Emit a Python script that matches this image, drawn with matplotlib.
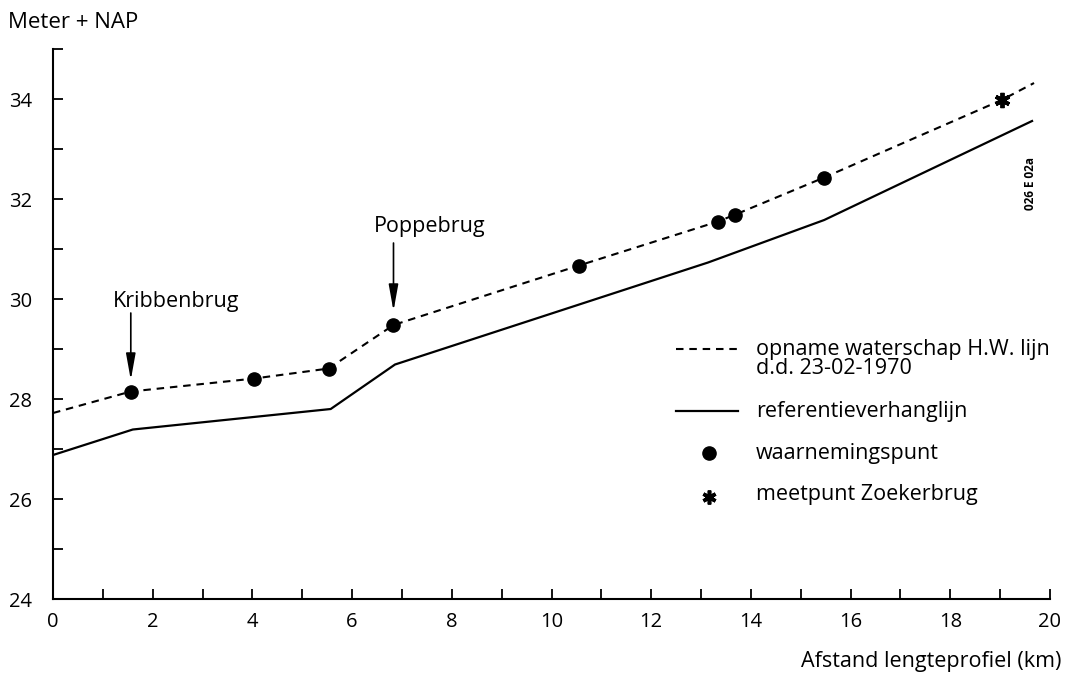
import matplotlib
matplotlib.use("Agg")
import matplotlib.pyplot as plt
from matplotlib.lines import Line2D
import numpy as np

plt.rcParams['font.family'] = ['Open Sans', 'DejaVu Sans']

# opname waterschap H.W. lijn (dashed)
hw_x = [0.0, 1.56, 4.04, 5.53, 6.83, 10.55, 13.34, 13.69, 15.47, 19.03, 19.68]
hw_y = [27.72, 28.15, 28.41, 28.61, 29.48, 30.67, 31.55, 31.69, 32.43, 33.98, 34.32]

# referentieverhanglijn (solid)
ref_x = [0.0, 1.6, 5.57, 6.86, 10.0, 13.14, 15.47, 19.64]
ref_y = [26.88, 27.39, 27.80, 28.69, 29.71, 30.73, 31.58, 33.56]

# waarnemingspunten
obs_x = [1.56, 4.04, 5.53, 6.83, 10.55, 13.34, 13.69, 15.47]
obs_y = [28.15, 28.41, 28.61, 29.48, 30.67, 31.55, 31.69, 32.43]

# meetpunt Zoekerbrug
zb_x = [19.03]
zb_y = [33.98]

fig = plt.figure(figsize=(10.65, 6.77), dpi=100)
ax = fig.add_axes([0.0498, 0.1152, 0.9361, 0.8124])

ax.plot(ref_x, ref_y, color='black', lw=1.6, solid_joinstyle='miter')
ax.plot(hw_x, hw_y, color='black', lw=1.5, dashes=(3.6, 2.8))
ax.plot(obs_x, obs_y, 'o', color='black', ms=9.5)
ax.plot(zb_x, zb_y, marker=(6, 2, 0), color='black', ms=11, mew=2.8, ls='none')

ax.set_xlim(0, 20)
ax.set_ylim(24, 35)
for s in ['top', 'right']:
    ax.spines[s].set_visible(False)
for s in ['left', 'bottom']:
    ax.spines[s].set_linewidth(1.5)

ax.set_xticks(np.arange(0, 21, 2))
ax.set_xticks(np.arange(0, 21, 1), minor=True)
ax.set_yticks(np.arange(24, 35, 2))
ax.set_yticks(np.arange(24, 36, 1), minor=True)
ax.tick_params(which='both', direction='in', length=7, width=1.3, labelsize=14.5)
ax.tick_params(axis='x', pad=9)
ax.tick_params(axis='y', pad=15)

arrow = dict(arrowstyle='-|>,head_width=0.18,head_length=1.0', color='black', lw=1.2,
             mutation_scale=16, shrinkA=0, shrinkB=0)

# annotations
ax.text(1.2, 29.95, 'Kribbenbrug', fontsize=15.5, ha='left', va='center')
ax.annotate('', xy=(1.56, 28.38), xytext=(1.56, 29.72), arrowprops=arrow)
ax.text(6.44, 31.45, 'Poppebrug', fontsize=15.5, ha='left', va='center')
ax.annotate('', xy=(6.83, 29.76), xytext=(6.83, 31.12), arrowprops=arrow)

# legend drawn by hand
legend_fs = 15.5
lx0, lx1, tx = 12.5, 13.74, 14.1
ax.add_line(Line2D([lx0, lx1], [29.0, 29.0], color='black', lw=1.5, dashes=(3.6, 2.8)))
ax.text(tx, 28.8, 'opname waterschap H.W. lijn\nd.d. 23-02-1970', fontsize=legend_fs,
        va='center', ha='left', linespacing=0.9)
ax.add_line(Line2D([lx0, lx1], [27.76, 27.76], color='black', lw=1.6))
ax.text(tx, 27.76, 'referentieverhanglijn', fontsize=legend_fs, va='center', ha='left')
ax.plot([13.16], [26.92], 'o', color='black', ms=9.5)
ax.text(tx, 26.92, 'waarnemingspunt', fontsize=legend_fs, va='center', ha='left')
ax.plot([13.16], [26.04], marker=(6, 2, 0), color='black', ms=10, mew=2.6, ls='none')
ax.text(tx, 26.1, 'meetpunt Zoekerbrug', fontsize=legend_fs, va='center', ha='left')

fig.text(8 / 1065, 1 - 22 / 677, 'Meter + NAP', fontsize=16, ha='left', va='center')
fig.text(1061 / 1065, 1 - 662 / 677, 'Afstand lengteprofiel (km)', fontsize=15.5,
         ha='right', va='center')
fig.text(1030 / 1065, 1 - 184 / 677, '026 E 02a', fontsize=8.5, fontweight='bold',
         rotation=90, ha='center', va='center')

fig.savefig('out.png', dpi=100)
